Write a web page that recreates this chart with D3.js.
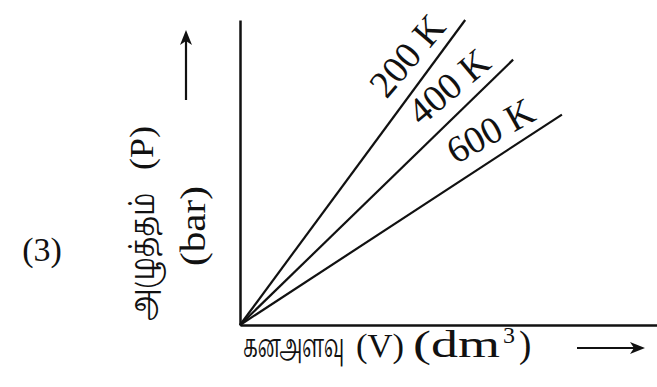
<!DOCTYPE html>
<html>
<head>
<meta charset="utf-8">
<script src="https://cdn.jsdelivr.net/npm/d3@7"></script>
<style>
  html, body { margin: 0; padding: 0; background: #fff; }
  svg { display: block; }
  text { fill: #111; }
</style>
</head>
<body>
<svg id="chart" width="657" height="387"></svg>
<script>
// Isotherms (straight lines from the origin) and where each one ends
const temperatures = ["200 K", "400 K", "600 K"];
const volumeEnd = [5.4, 6.55, 7.72];
const pressureEnd = [10.0, 8.7, 6.9];

// Captions
const panelLabel = "(3)";
const yLabelTamil = "அழுத்தம்";
const yLabelSymbol = "(P)";
const yLabelUnit = "(bar)";
const xLabelTamil = "கனஅளவு";
const xLabelSymbol = "(V)";
const xLabelUnit = "(dm";
const xLabelSup = "3";

const serif = "'Liberation Serif', 'Times New Roman', serif";
const tamil = "'Noto Serif Tamil', 'Noto Sans Tamil', 'Lohit Tamil', serif";

const svg = d3.select("#chart");
const ink = "#111";

const x = d3.scaleLinear().domain([0, 10]).range([240, 657]);
const y = d3.scaleLinear().domain([0, 10]).range([325, 20]);

// Axes without ticks
svg.append("g")
  .attr("transform", `translate(${x(0)},0)`)
  .call(d3.axisLeft(y).tickValues([]).tickSizeOuter(0))
  .select(".domain").attr("stroke", ink).attr("stroke-width", 2.5);
svg.append("g")
  .attr("transform", `translate(0,${y(0)})`)
  .call(d3.axisBottom(x).tickValues([]).tickSizeOuter(0))
  .select(".domain").attr("stroke", ink).attr("stroke-width", 2.5);

const isotherms = temperatures.map((t, i) => ({ t, v: volumeEnd[i], p: pressureEnd[i] }));

svg.append("g").selectAll("line")
  .data(isotherms)
  .join("line")
  .attr("x1", x(0)).attr("y1", y(0))
  .attr("x2", d => x(d.v)).attr("y2", d => y(d.p))
  .attr("stroke", ink).attr("stroke-width", 2.2);

// Temperature labels set along each line, just above it
svg.append("g").selectAll("text")
  .data(isotherms)
  .join("text")
  .each(function (d) {
    const dx = x(d.v) - x(0), dy = y(d.p) - y(0);
    const len = Math.hypot(dx, dy);
    const ux = dx / len, uy = dy / len;
    const nx = uy, ny = -ux; // normal pointing up-left
    const along = 316, off = 26;
    const cx = x(0) + ux * along + nx * off;
    const cy = y(0) + uy * along + ny * off;
    const ang = Math.atan2(dy, dx) * 180 / Math.PI + 4;
    d3.select(this)
      .attr("transform", `translate(${cx},${cy}) rotate(${ang})`)
      .attr("text-anchor", "middle")
      .attr("dy", "0.35em");
  })
  .attr("font-family", serif)
  .attr("font-size", 38)
  .text(d => d.t);

// Arrow helper: shaft plus filled head pointing at (x2, y2)
function arrow(x1, y1, x2, y2) {
  const a = Math.atan2(y2 - y1, x2 - x1);
  const L = 15, W = 6, back = 11;
  const bx = x2 - Math.cos(a) * back, by = y2 - Math.sin(a) * back;
  svg.append("line").attr("x1", x1).attr("y1", y1).attr("x2", bx).attr("y2", by)
    .attr("stroke", ink).attr("stroke-width", 2.2);
  const px = -Math.sin(a), py = Math.cos(a);
  const hx = x2 - Math.cos(a) * L, hy = y2 - Math.sin(a) * L;
  svg.append("path")
    .attr("d", d3.line()([[x2, y2], [hx + px * W, hy + py * W], [bx, by], [hx - px * W, hy - py * W]]) + "Z")
    .attr("fill", ink);
}
arrow(186, 100, 186, 30);
arrow(577, 348, 645, 348);

// Text scaled along its baseline so it spans exactly `span` pixels
function fitText(str, family, size, span, place) {
  const t = svg.append("text")
    .attr("font-family", family).attr("font-size", size)
    .text(str);
  const w = t.node().getComputedTextLength();
  t.attr("transform", `${place} scale(${span / w},1)`);
  return t;
}

// Rotated y caption: each piece spans screen y from yBottom up to yTop
const vText = (bx, yBottom, yTop, str, family, size) =>
  fitText(str, family, size, yBottom - yTop, `translate(${bx},${yBottom}) rotate(-90)`);
vText(154, 321, 193, yLabelTamil, tamil, 34);
vText(153, 170, 126, yLabelSymbol, serif, 33);
vText(205, 266, 186, yLabelUnit, serif, 36);

// Panel number
svg.append("text").attr("x", 42).attr("y", 261)
  .attr("text-anchor", "middle")
  .attr("font-family", serif).attr("font-size", 34)
  .text(panelLabel);

// X caption, piece by piece
const hText = (x0, x1, base, str, family, size) =>
  fitText(str, family, size, x1 - x0, `translate(${x0},${base})`);
hText(243, 344, 357, xLabelTamil, tamil, 32);
hText(356, 404, 357, xLabelSymbol, serif, 33);
hText(413, 500, 357, xLabelUnit, serif, 38);
svg.append("text").attr("x", 503).attr("y", 343)
  .attr("font-family", serif).attr("font-size", 24).text(xLabelSup);
svg.append("text").attr("x", 519).attr("y", 357)
  .attr("font-family", serif).attr("font-size", 37).text(")");
</script>
</body>
</html>
